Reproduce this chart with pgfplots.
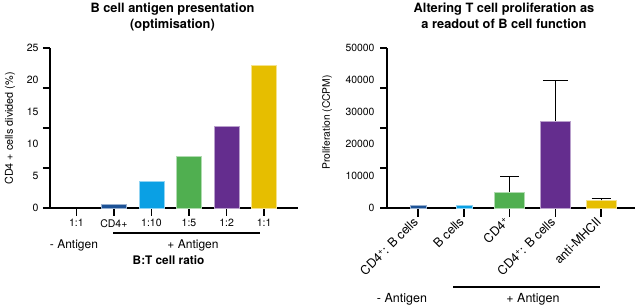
\documentclass[border=0pt]{standalone}
\usepackage{fontspec}
\setmainfont{TeX Gyre Heros}
\usepackage{pgfplots}
\pgfplotsset{compat=1.18}
\definecolor{cdb}{RGB}{28,82,150}
\definecolor{clb}{RGB}{10,160,228}
\definecolor{cgr}{RGB}{80,175,80}
\definecolor{cpu}{RGB}{100,45,142}
\definecolor{cgo}{RGB}{230,190,0}
\pgfplotsset{
  mybar/.style={ybar, bar shift=0pt, fill=#1, draw=#1!45!white, line width=0.7pt},
  myerr/.style={error bars/.cd, y dir=plus, y explicit,
    error bar style={line width=1pt, black},
    error mark options={rotate=90, line width=1pt, black, mark size=#1}},
  myaxis/.style={
    scale only axis, anchor=south west, width=248pt, height=160pt,
    axis x line=bottom, axis y line=left,
    axis line style={-, line width=1.2pt, black},
    tick align=outside, clip=false,
    x tick style={line width=1.5pt, black},
    y tick style={draw=none},
    extra y tick labels={},
    extra y tick style={y tick style={draw=black, line width=1.2pt}, major tick length=7pt},
    /pgf/number format/assume math mode=true,
  },
}
\begin{document}
\begin{tikzpicture}
\path[use as bounding box] (0pt,0pt) rectangle (637pt,307pt);
% ---------- left chart ----------
\begin{axis}[myaxis,
  at={(50pt,99pt)},
  xmin=-0.7, xmax=5.9, ymin=0, ymax=25,
  xtick={0,1,2,3,4,5},
  xticklabels={1:1,CD4+,1:10,1:5,1:2,1:1},
  major tick length=8pt,
  xticklabel style={font=\fontsize{10.5}{12}\selectfont},
  ytick={0,5,10,15,20,25},
  yticklabels={0,5,10,15,20,25},
  yticklabel style={font=\fontsize{10.5}{12}\selectfont},
  extra y ticks={0,6.25,12.5,18.75,25},
]
\addplot[mybar=cdb, bar width=25pt] coordinates {(1,0.58)};
\addplot[mybar=clb, bar width=25pt] coordinates {(2,4.1)};
\addplot[mybar=cgr, bar width=25pt] coordinates {(3,8.0)};
\addplot[mybar=cpu, bar width=25pt] coordinates {(4,12.7)};
\addplot[mybar=cgo, bar width=25pt] coordinates {(5,22.3)};
\end{axis}
% ---------- right chart ----------
\begin{axis}[myaxis,
  at={(387pt,99pt)},
  xmin=-0.68, xmax=4.74, ymin=0, ymax=50000,
  xtick={0,1,2,3,4},
  xticklabels={CD4\textsuperscript{+}: B cells, B cells, CD4\textsuperscript{+}, CD4\textsuperscript{+}: B cells, anti-MHCII},
  major tick length=9pt,
  xticklabel style={rotate=45, anchor=east, font=\fontsize{12.5}{15}\selectfont},
  ytick={0,10000,20000,30000,40000,50000},
  yticklabels={0,10000,20000,30000,40000,50000},
  scaled y ticks=false,
  yticklabel style={font=\fontsize{10.4}{12}\selectfont},
  extra y ticks={0,12500,25000,37500,50000},
]
\addplot[mybar=cdb, bar width=16pt] coordinates {(0,850)};
\addplot[mybar=clb, bar width=16pt] coordinates {(1,850)};
\addplot[mybar=cgr, bar width=30pt, myerr=9.5pt]
  coordinates {(2,5000) +- (0,4900)};
\addplot[mybar=cpu, bar width=30pt, myerr=12.5pt]
  coordinates {(3,27200) +- (0,12700)};
\addplot[mybar=cgo, bar width=30pt, myerr=9.5pt]
  coordinates {(4,2400) +- (0,500)};
\end{axis}
% ---------- titles ----------
\begin{scope}[every node/.style={font=\bfseries\fontsize{12.8}{15}\selectfont, anchor=base}]
\node at (172.5pt,294pt) {B cell antigen presentation};
\node at (172.5pt,278pt) {(optimisation)};
\node at (504pt,294pt) {Altering T cell proliferation as};
\node at (504pt,278pt) {a readout of B cell function};
\end{scope}
% ---------- axis labels ----------
\node[rotate=90, font=\fontsize{10.8}{12}\selectfont] at (10pt,178.5pt) {CD4 + cells divided (\%)};
\node[rotate=90, font=\fontsize{10.3}{12}\selectfont] at (327pt,184.5pt) {Proliferation (CCPM)};
% ---------- group annotations ----------
\node[anchor=base, font=\fontsize{12}{14}\selectfont] at (74pt,58pt) {- Antigen};
\node[anchor=base, font=\fontsize{12}{14}\selectfont] at (193pt,58pt) {+ Antigen};
\draw[line width=2pt] (113pt,74pt) -- (260pt,74pt);
\node[anchor=base, font=\bfseries\fontsize{11.8}{14}\selectfont] at (168.5pt,42.7pt) {B:T cell ratio};
\node[anchor=base, font=\fontsize{12.5}{14}\selectfont] at (402pt,4pt) {- Antigen};
\node[anchor=base, font=\fontsize{12.5}{14}\selectfont] at (533pt,4pt) {+ Antigen};
\draw[line width=2pt] (453pt,20.3pt) -- (599.5pt,20.3pt);
\end{tikzpicture}
\end{document}
